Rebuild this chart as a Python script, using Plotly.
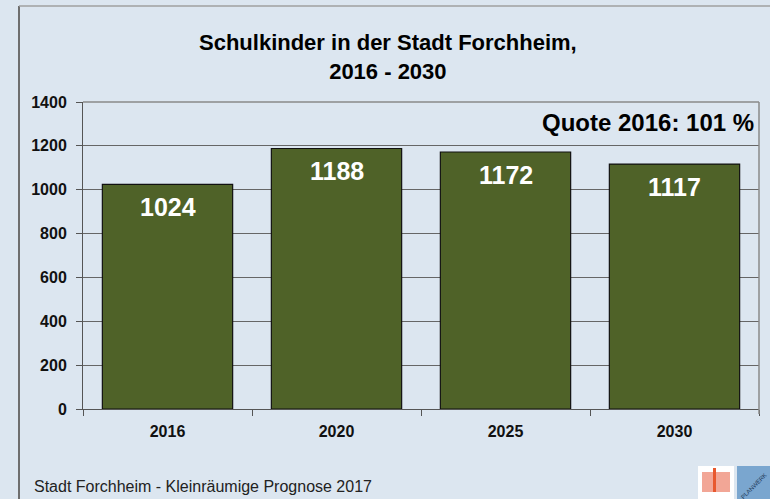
import plotly.graph_objects as go

# School children in Forchheim, forecast
years = ["2016", "2020", "2025", "2030"]
pupils = [1024, 1188, 1172, 1117]
y_ticks = [0, 200, 400, 600, 800, 1000, 1200, 1400]

BG = "#dce6f0"
BAR = "#4f6228"
FRAME = "#8a8a8a"
FONT = "Liberation Sans, Arial, sans-serif"

fig = go.Figure()
fig.add_trace(go.Bar(
    x=years, y=pupils,
    marker=dict(color=BAR, line=dict(color="#111111", width=1.2)),
    hoverinfo="x+y",
))

# value labels just below the top of each bar (category index positions)
for i, v in enumerate(pupils):
    fig.add_annotation(x=i, y=v, text=f"<b>{v}</b>", showarrow=False,
                       yanchor="top", yshift=-7,
                       font=dict(family=FONT, size=25, color="white"))

fig.update_layout(
    width=770, height=499,
    margin=dict(l=83, r=11, t=102, b=90),
    paper_bgcolor="white",
    plot_bgcolor=BG,
    bargap=0.229,
    showlegend=False,
    font=dict(family=FONT, color="#111111"),
    xaxis=dict(
        type="category", range=[-0.5, len(years) - 0.5],
        tickson="boundaries", tickangle=0,
        ticks="outside", ticklen=6, tickcolor="#555555",
        showline=True, linecolor="#555555", linewidth=1,
        showgrid=False,
        tickfont=dict(family=FONT, size=16, color="#111111", weight="bold"),
        ticklabelstandoff=8,
    ),
    yaxis=dict(
        range=[0, 1400], tickvals=y_ticks,
        ticks="outside", ticklen=6, tickcolor="#555555",
        showline=True, linecolor="#555555", linewidth=1,
        showgrid=True, gridcolor="#666666", gridwidth=1,
        zeroline=False,
        tickfont=dict(family=FONT, size=16, color="#111111", weight="bold"),
        ticklabelstandoff=6,
    ),
    shapes=[
        # outer slide frame
        dict(type="rect", xref="paper", yref="paper", layer="below",
             x0=-83/676, x1=1.02, y0=-90/307, y1=1.4,
             fillcolor=BG, line=dict(width=0)),
        dict(type="line", xref="paper", yref="paper",
             x0=-64/676, x1=-64/676, y0=-0.3, y1=(409-6)/307,
             line=dict(color="#6e6e6e", width=2)),
        dict(type="line", xref="paper", yref="paper",
             x0=-64/676, x1=1.03, y0=(409-6)/307, y1=(409-6)/307,
             line=dict(color="#a0a0a0", width=1.5)),
        # plot area frame (top and right)
        dict(type="line", xref="paper", yref="paper",
             x0=0, x1=1, y0=1, y1=1, line=dict(color=FRAME, width=1.5)),
        dict(type="line", xref="paper", yref="paper",
             x0=1, x1=1, y0=-5/307, y1=1, line=dict(color=FRAME, width=1.5)),
        # logos in the corner
        dict(type="rect", xref="paper", yref="paper",
             x0=(698-83)/676, x1=(734-83)/676, y0=(409-499)/307, y1=(409-466)/307,
             fillcolor="white", line=dict(width=0)),
        dict(type="rect", xref="paper", yref="paper",
             x0=(702-83)/676, x1=(730-83)/676, y0=(409-492)/307, y1=(409-472)/307,
             fillcolor="#f2a696", line=dict(width=0)),
        dict(type="rect", xref="paper", yref="paper",
             x0=(713-83)/676, x1=(716-83)/676, y0=(409-492)/307, y1=(409-468)/307,
             fillcolor="#e8582e", line=dict(width=0)),
        dict(type="rect", xref="paper", yref="paper",
             x0=(737-83)/676, x1=(772-83)/676, y0=(409-499)/307, y1=(409-466)/307,
             fillcolor="#7aa6cf", line=dict(width=0)),
    ],
)

fig.add_annotation(xref="paper", yref="paper", x=(388-83)/676, y=(409-28)/307,
                   text="<b>Schulkinder in der Stadt Forchheim,<br>2016 - 2030</b>",
                   showarrow=False, xanchor="center", yanchor="top",
                   font=dict(family=FONT, size=22, color="#000000"))
fig.add_annotation(xref="paper", yref="paper", x=(756-83)/676, y=(409-122)/307,
                   text="<b>Quote 2016: 101 %</b>", showarrow=False,
                   xanchor="right", yanchor="middle",
                   font=dict(family=FONT, size=24, color="#000000"))
fig.add_annotation(xref="paper", yref="paper", x=(32-83)/676, y=(409-486)/307,
                   text="Stadt Forchheim - Kleinräumige Prognose 2017", showarrow=False,
                   xanchor="left", yanchor="middle",
                   font=dict(family=FONT, size=16, color="#222222"))
fig.add_annotation(xref="paper", yref="paper", x=(754-83)/676, y=(409-486)/307,
                   text="PLANWERK", showarrow=False, textangle=-45,
                   xanchor="center", yanchor="middle",
                   font=dict(family=FONT, size=6, color="#1f3b5a"))

fig.write_html("out.html")
